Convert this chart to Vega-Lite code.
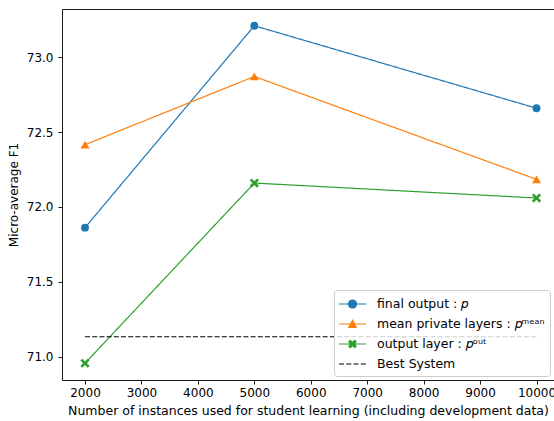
{
  "$schema": "https://vega.github.io/schema/vega-lite/v6.json",
  "width": 492,
  "height": 371,
  "autosize": {"type": "none"},
  "padding": {"left": 62, "top": 9, "right": 0, "bottom": 41},
  "background": "white",
  "config": {
    "view": {"stroke": null},
    "font": "DejaVu Sans",
    "axis": {
      "labelFont": "DejaVu Sans",
      "titleFont": "DejaVu Sans",
      "labelFontSize": 12,
      "titleFontSize": 12,
      "titleFontWeight": "normal",
      "labelColor": "black",
      "titleColor": "black",
      "domainColor": "black",
      "domainWidth": 0.9,
      "tickColor": "black",
      "tickWidth": 0.9,
      "tickSize": 4,
      "grid": false
    },
    "legend": {
      "labelFont": "DejaVu Sans",
      "labelFontSize": 12.5,
      "labelColor": "black",
      "orient": "bottom-right",
      "offset": 4,
      "padding": 5,
      "symbolSize": 256,
      "symbolOpacity": 1,
      "symbolStrokeWidth": 1.2,
      "labelOffset": 20,
      "rowPadding": 4,
      "labelLimit": 400,
      "fillColor": "rgba(255,255,255,0.8)",
      "strokeColor": "#cccccc",
      "cornerRadius": 3
    }
  },
  "data": {
    "values": [
      {"n": 2000, "f1": 71.862, "series": "final output : 𝑝"},
      {"n": 5000, "f1": 73.211, "series": "final output : 𝑝"},
      {"n": 10000, "f1": 72.66, "series": "final output : 𝑝"},
      {"n": 2000, "f1": 72.416, "series": "mean private layers : 𝑝ᵐᵉᵃⁿ"},
      {"n": 5000, "f1": 72.872, "series": "mean private layers : 𝑝ᵐᵉᵃⁿ"},
      {"n": 10000, "f1": 72.185, "series": "mean private layers : 𝑝ᵐᵉᵃⁿ"},
      {"n": 2000, "f1": 70.956, "series": "output layer : 𝑝ᵒᵘᵗ"},
      {"n": 5000, "f1": 72.16, "series": "output layer : 𝑝ᵒᵘᵗ"},
      {"n": 10000, "f1": 72.06, "series": "output layer : 𝑝ᵒᵘᵗ"},
      {"n": 2000, "f1": 71.133, "series": "Best System"},
      {"n": 10000, "f1": 71.133, "series": "Best System"}
    ]
  },
  "encoding": {
    "x": {
      "field": "n",
      "type": "quantitative",
      "scale": {"domain": [1592.5, 10310], "nice": false, "zero": false}
    },
    "y": {
      "field": "f1",
      "type": "quantitative",
      "scale": {"domain": [70.844, 73.323], "nice": false, "zero": false},
      "axis": {
        "title": "Micro-average F1",
        "values": [71, 71.5, 72, 72.5, 73],
        "format": ".1f",
        "labelPadding": 5,
        "titlePadding": 6
      }
    }
  },
  "layer": [
    {
      "mark": {"type": "line", "strokeWidth": 1.2},
      "encoding": {
        "x": {
          "field": "n",
          "type": "quantitative",
          "axis": {
            "title": "Number of instances used for student learning (including development data)",
            "values": [2000, 3000, 4000, 5000, 6000, 7000, 8000, 9000, 10000],
            "format": "d",
            "labelPadding": 3,
            "titlePadding": 6,
            "titleFontSize": 12.5
          }
        },
        "color": {
          "field": "series",
          "type": "nominal",
          "legend": {"title": null},
          "scale": {
            "domain": ["final output : 𝑝", "mean private layers : 𝑝ᵐᵉᵃⁿ", "output layer : 𝑝ᵒᵘᵗ", "Best System"],
            "range": ["#1f77b4", "#ff7f0e", "#2ca02c", "black"]
          }
        },
        "strokeDash": {
          "field": "series",
          "type": "nominal",
          "legend": null,
          "scale": {
            "domain": ["final output : 𝑝", "mean private layers : 𝑝ᵐᵉᵃⁿ", "output layer : 𝑝ᵒᵘᵗ", "Best System"],
            "range": [[1, 0], [1, 0], [1, 0], [5, 2.2]]
          }
        }
      }
    },
    {
      "transform": [{"filter": "datum.series === 'final output : 𝑝'"}],
      "mark": {"type": "point", "filled": true, "opacity": 1, "size": 62, "shape": "circle", "color": "#1f77b4"},
      "encoding": {
        "x": {"field": "n", "type": "quantitative", "axis": null}
      }
    },
    {
      "transform": [{"filter": "datum.series === 'mean private layers : 𝑝ᵐᵉᵃⁿ'"}],
      "mark": {"type": "point", "filled": true, "opacity": 1, "size": 80, "shape": "triangle-up", "color": "#ff7f0e"},
      "encoding": {
        "x": {"field": "n", "type": "quantitative", "axis": null}
      }
    },
    {
      "transform": [{"filter": "datum.series === 'output layer : 𝑝ᵒᵘᵗ'"}],
      "mark": {"type": "point", "filled": true, "opacity": 1, "size": 85, "shape": "M-1,-0.6L-0.6,-1L0,-0.4L0.6,-1L1,-0.6L0.4,0L1,0.6L0.6,1L0,0.4L-0.6,1L-1,0.6L-0.4,0Z", "color": "#2ca02c"},
      "encoding": {
        "x": {"field": "n", "type": "quantitative", "axis": null}
      }
    },
    {
      "mark": {"type": "point", "filled": true},
      "encoding": {
        "x": {
          "field": "n",
          "type": "quantitative",
          "axis": {"orient": "top", "labels": false, "ticks": false, "title": null}
        },
        "opacity": {"value": 0},
        "color": {"field": "series", "type": "nominal", "legend": {"title": null}},
        "shape": {
          "field": "series",
          "type": "nominal",
          "scale": {
            "domain": ["final output : 𝑝", "mean private layers : 𝑝ᵐᵉᵃⁿ", "output layer : 𝑝ᵒᵘᵗ", "Best System"],
            "range": [
              "M-1.125,0L2.25,0M1.0625,0A0.5,0.5,0,1,1,0.0625,0A0.5,0.5,0,1,1,1.0625,0Z",
              "M-1.125,0L2.25,0M0.5625,-0.47L1.0275,0.42L0.0975,0.42Z",
              "M-1.125,0L2.25,0M0.1125,-0.27L0.2925,-0.45L0.5625,-0.18L0.8325,-0.45L1.0125,-0.27L0.7425,0L1.0125,0.27L0.8325,0.45L0.5625,0.18L0.2925,0.45L0.1125,0.27L0.3825,0Z",
              "M-1.125,0L-0.4895,0M-0.2162,0L0.4193,0M0.6926,0L1.3281,0M1.6014,0L2.2369,0"
            ]
          },
          "legend": {
            "title": null,
            "encode": {
              "symbols": {
                "update": {
                  "stroke": {"scale": "color", "field": "value"},
                  "fill": {"scale": "color", "field": "value"},
                  "opacity": {"value": 1},
                  "strokeWidth": {"value": 1.2}
                }
              }
            }
          }
        }
      }
    }
  ],
  "resolve": {
    "axis": {"x": "independent"}
  }
}
